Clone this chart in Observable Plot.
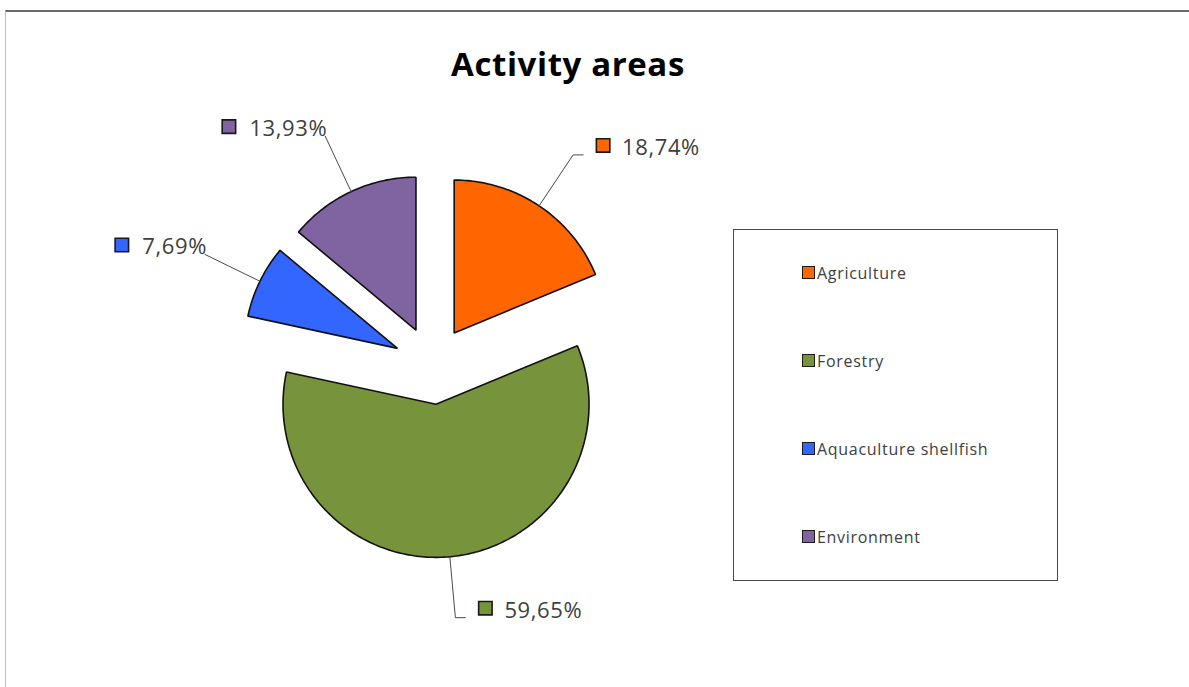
<!DOCTYPE html>
<html>
<head>
<meta charset="utf-8">
<script src="https://cdn.jsdelivr.net/npm/d3@7"></script>
<script src="https://cdn.jsdelivr.net/npm/@observablehq/plot@0.6"></script>
<style>
  body { margin: 0; background: #fff; font-family: "Open Sans", sans-serif; }
  #wrap { position: relative; width: 1189px; height: 687px; overflow: hidden; background: #fff; }
  #frame { position: absolute; left: 5px; top: 10px; width: 1200px; height: 700px;
           border-top: 2px solid #6a6a6a; border-left: 1px solid #bdbdbd; box-sizing: border-box; }
  #chart { position: absolute; left: 0; top: 0; }
  #title { position: absolute; left: 0; width: 1136px; top: 42px; text-align: center;
           font: 700 33px "Open Sans", sans-serif; letter-spacing: 0.6px; line-height: 44px; color: #000; }
  #legend { position: absolute; left: 733px; top: 229px; width: 325px; height: 352px;
            border: 1.5px solid #4a4a4a; box-sizing: border-box; background: #fff; }
  .item { position: absolute; left: 68px; height: 20px; display: flex; align-items: center;
          font: 16px "Open Sans", sans-serif; letter-spacing: 0.7px; color: #404040; white-space: nowrap; }
  .sw { width: 11px; height: 11px; border: 1.5px solid #1a1a1a; margin-right: 2px; flex: none; }
</style>
</head>
<body>
<div id="wrap">
  <div id="frame"></div>
  <div id="chart"></div>
  <div id="title"></div>
  <div id="legend"></div>
</div>
<script>
// ---- data ----
const title = "Activity areas";
const categories = ["Agriculture", "Forestry", "Aquaculture shellfish", "Environment"];
const shares = [18.74, 59.65, 7.69, 13.93];
const shareLabels = ["18,74%", "59,65%", "7,69%", "13,93%"];
const colors = ["#FF6600", "#77933C", "#3366FF", "#8064A2"];

// ---- layout ----
const W = 1189, H = 687;
const CX = 432, CY = 365, R = 153;      // pie centre and radius (px)
const EXPLODE = 39 / R;                 // explosion distance in radius units
const LABEL_R = 1.40;                   // leader end, in radius units from slice tip
const LABEL_FONT = 22, LABEL_SPACING = 0.6;

document.getElementById("title").textContent = title;

const total = d3.sum(shares);
let acc = 0;
const slices = categories.map((c, i) => {
  const a0 = acc / total * 2 * Math.PI;
  acc += shares[i];
  const a1 = acc / total * 2 * Math.PI;
  const mid = (a0 + a1) / 2;
  return {c, i, a0, a1, mid, tx: EXPLODE * Math.sin(mid), ty: EXPLODE * Math.cos(mid)};
});

// slice outlines (tip + arc), in radius units, y up
const slicePts = slices.flatMap(s => {
  const pts = [{c: s.c, x: s.tx, y: s.ty}];
  const n = Math.max(12, Math.ceil((s.a1 - s.a0) / (Math.PI / 180)));
  for (let k = 0; k <= n; k++) {
    const t = s.a0 + (s.a1 - s.a0) * k / n;
    pts.push({c: s.c, x: s.tx + Math.sin(t), y: s.ty + Math.cos(t)});
  }
  return pts;
});

// label measurement
const ctx = document.createElement("canvas").getContext("2d");
ctx.font = LABEL_FONT + "px 'Open Sans'";
const textWidth = t => ctx.measureText(t).width + LABEL_SPACING * t.length;

const leaderPts = [];
const labelRows = [];
slices.forEach(s => {
  const dx = Math.sin(s.mid), dy = Math.cos(s.mid);
  const m = {x: s.tx + dx, y: s.ty + dy};
  const p = {x: s.tx + LABEL_R * dx, y: s.ty + LABEL_R * dy};
  leaderPts.push({c: s.c, ...m}, {c: s.c, ...p});
  const right = dx >= 0;
  const text = shareLabels[s.i];
  if (right) {
    const stub = {x: p.x + 10 / R, y: p.y};
    leaderPts.push({c: s.c, ...stub});
    labelRows.push({c: s.c, text, tx: stub.x + 39 / R, ty: stub.y, sx: stub.x + 20 / R, sy: stub.y + 9.5 / R, anchor: "start"});
  } else {
    const w = textWidth(text);
    const end = p.x + 2 / R;
    labelRows.push({c: s.c, text, tx: end, ty: p.y, sx: end - (w + 20.5) / R, sy: p.y + 9.5 / R, anchor: "end"});
  }
});

const textOpts = {x: "tx", y: "ty", text: "text", lineAnchor: "bottom", fontSize: LABEL_FONT,
                  fontFamily: "Open Sans", fill: "#404040"};

const plot = Plot.plot({
  width: W, height: H,
  margin: 0,
  x: {domain: [-CX / R, (W - CX) / R], axis: null},
  y: {domain: [(CY - H) / R, CY / R], axis: null},
  color: {domain: categories, range: colors},
  style: {background: "transparent", overflow: "visible"},
  marks: [
    Plot.line(slicePts, {x: "x", y: "y", z: "c", fill: "c", stroke: "#111", strokeWidth: 1.6, curve: "linear-closed", strokeLinejoin: "miter"}),
    Plot.line(leaderPts, {x: "x", y: "y", z: "c", stroke: "#4a4a4a", strokeWidth: 1}),
    Plot.dot(labelRows, {x: "sx", y: "sy", symbol: "square", r: 7.6, fill: "c", stroke: "#1a1a1a", strokeWidth: 1.6}),
    Plot.text(labelRows.filter(d => d.anchor === "start"), {...textOpts, textAnchor: "start"}),
    Plot.text(labelRows.filter(d => d.anchor === "end"), {...textOpts, textAnchor: "end"})
  ]
});
plot.querySelectorAll("text").forEach(t => t.style.letterSpacing = LABEL_SPACING + "px");
document.getElementById("chart").appendChild(plot);

// legend
const legend = document.getElementById("legend");
categories.forEach((c, i) => {
  const it = document.createElement("div");
  it.className = "item";
  it.style.top = (44 + 88 * i - 10 - 1.5) + "px";
  const sw = document.createElement("span");
  sw.className = "sw";
  sw.style.background = colors[i];
  const tx = document.createElement("span");
  tx.textContent = c;
  it.appendChild(sw); it.appendChild(tx);
  legend.appendChild(it);
});
</script>
</body>
</html>
